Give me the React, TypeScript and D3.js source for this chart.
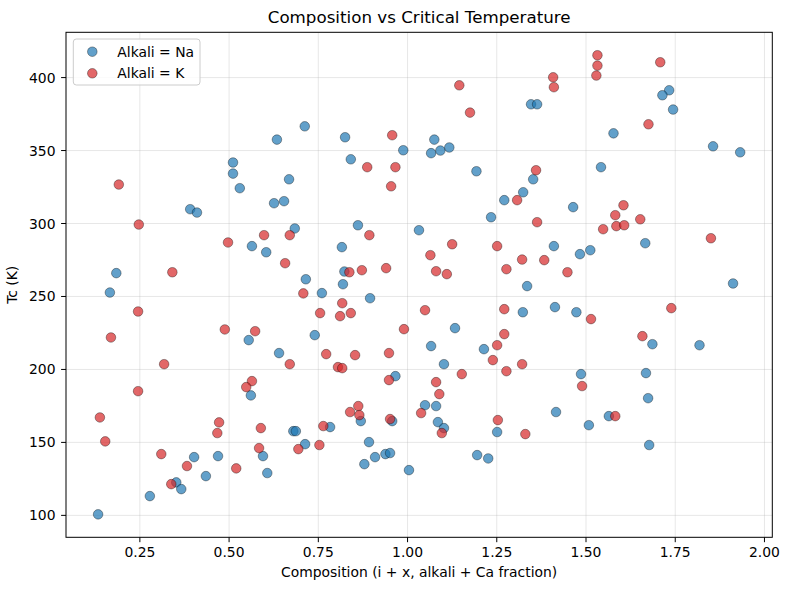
import React from "react";
import * as d3 from "d3";

// Alkali = Na
const naX = [0.712,0.634,0.511,0.511,0.668,0.530,0.391,0.410,0.626,0.654,0.684,0.564,0.604,0.184,0.715,
  0.166,0.555,0.640,0.561,0.680,0.687,0.713,0.595,0.402,0.469,0.607,0.435,0.352,0.366,0.278,0.133,
  1.346,1.363,0.825,1.075,0.988,1.066,1.092,1.117,0.841,1.193,1.352,1.324,1.271,1.234,0.861,1.032,0.816,0.823,0.819,1.335,
  0.760,0.895,1.323,1.133,0.740,1.066,1.214,1.102,0.966,1.049,1.080,0.869,0.957,1.085,1.102,1.251,0.783,0.892,0.879,0.909,0.938,0.951,1.004,1.195,1.226,
  1.733,1.714,1.744,1.577,1.856,1.932,1.542,1.464,1.410,1.666,1.512,1.483,1.912,
  1.413,1.473,1.686,1.818,1.486,1.668,1.674,1.416,1.564,1.508,1.677];
const naY = [366.6,357.5,341.8,334.2,330.3,324.2,309.8,307.5,313.9,315.3,296.6,284.5,280.3,266.0,261.8,
  252.7,220.1,211.2,182.2,157.7,157.7,148.8,140.6,139.9,140.6,129.0,126.9,122.6,118.0,113.2,100.7,
  381.7,381.7,359.1,357.5,350.2,348.2,350.0,352.1,344.0,335.8,330.3,321.4,316.0,304.3,298.8,295.4,283.8,267.1,258.4,257.1,
  252.3,248.8,239.2,228.3,223.5,216.0,213.9,203.6,195.4,175.5,174.9,164.6,164.6,163.9,159.8,157.1,160.5,150.2,135.1,139.9,142.0,142.7,131.0,141.3,139.0,
  391.3,387.9,378.1,361.8,352.9,348.8,338.6,311.2,284.5,286.5,281.7,279.0,258.9,
  242.7,239.2,217.3,216.6,196.8,197.5,180.3,170.8,168.0,161.8,148.2];

// Alkali = K
const kX = [0.191,0.247,0.598,0.670,0.497,0.657,0.341,
  0.708,0.245,0.169,0.488,0.573,0.670,0.318,0.564,0.548,0.245,0.138,0.472,0.467,0.589,0.153,0.694,0.584,0.310,0.382,0.520,0.338,
  1.145,1.175,0.957,0.887,0.966,1.360,0.954,1.307,1.363,0.893,1.125,1.251,1.064,1.321,1.383,0.837,0.872,0.940,1.080,1.110,1.277,
  0.817,0.755,0.811,0.841,1.049,1.271,0.990,1.271,1.251,0.772,0.853,0.948,1.239,1.321,0.805,0.817,1.277,1.152,0.948,1.080,1.089,0.862,0.839,0.865,1.038,0.951,1.096,1.253,1.330,0.764,0.753,
  1.532,1.532,1.529,1.708,1.408,1.410,1.675,1.605,1.582,1.652,1.548,1.585,1.607,1.850,1.448,
  1.514,1.739,1.658,1.489,1.582];
const kY = [326.7,299.3,292.0,292.0,287.0,272.8,266.6,
  252.1,239.7,221.9,227.4,226.2,203.6,203.6,192.0,187.9,185.1,167.1,163.7,156.4,159.8,150.7,145.4,146.1,142.0,133.8,132.2,121.4,
  394.7,376.0,360.5,338.6,338.6,336.5,325.5,316.0,300.9,292.0,285.8,284.5,278.3,275.3,274.9,266.6,268.0,269.4,267.3,265.3,268.7,
  245.4,238.6,236.5,238.6,240.6,241.3,227.6,224.2,216.6,210.5,209.8,211.2,206.4,203.6,201.6,200.9,198.8,196.8,192.7,191.3,183.1,174.9,170.8,168.7,170.1,166.0,156.4,165.3,155.7,161.2,148.2,
  415.3,408.2,401.4,410.5,400.2,393.4,368.0,312.5,305.7,302.9,296.1,298.2,298.8,289.9,266.6,
  234.5,242.0,222.8,188.6,168.0];

const xTicks = [0.25, 0.5, 0.75, 1.0, 1.25, 1.5, 1.75, 2.0];
const yTicks = [100, 150, 200, 250, 300, 350, 400];
const seriesNames = ["Alkali = Na", "Alkali = K"];
const seriesColors = ["#1f77b4", "#d62728"];

const W = 788, H = 590;
const L = 66, R = 772.3, T = 32.3, B = 537.3;
const FONT = "DejaVu Sans, sans-serif";
const FS = 13.9;

function padded(vals: number[]): [number, number] {
  const [mn, mx] = d3.extent(vals) as [number, number];
  const p = (mx - mn) * 0.05;
  return [mn - p, mx + p];
}

export default function App() {
  const allX = naX.concat(kX);
  const allY = naY.concat(kY);
  const x = d3.scaleLinear().domain(padded(allX)).range([L, R]);
  const y = d3.scaleLinear().domain(padded(allY)).range([B, T]);
  const series = [
    { xs: naX, ys: naY, color: seriesColors[0], name: seriesNames[0] },
    { xs: kX, ys: kY, color: seriesColors[1], name: seriesNames[1] },
  ];
  return (
    <div style={{ position: "absolute", left: 0, top: 0 }}>
      <svg width={W} height={H} style={{ display: "block", background: "#fff" }} fontFamily={FONT}>
        <rect x={0} y={0} width={W} height={H} fill="#fff" />
        {/* grid */}
        {xTicks.map((t) => (
          <line key={"gx" + t} x1={x(t)} x2={x(t)} y1={T} y2={B} stroke="#b0b0b0" strokeOpacity={0.3} strokeWidth={1} />
        ))}
        {yTicks.map((t) => (
          <line key={"gy" + t} x1={L} x2={R} y1={y(t)} y2={y(t)} stroke="#b0b0b0" strokeOpacity={0.3} strokeWidth={1} />
        ))}
        {/* points */}
        {series.map((s, si) => (
          <g key={si}>
            {s.xs.map((v, i) => (
              <circle key={i} cx={x(v)} cy={y(s.ys[i])} r={4.8} fill={s.color} fillOpacity={0.7}
                stroke="#000" strokeOpacity={0.7} strokeWidth={0.5} />
            ))}
          </g>
        ))}
        {/* spines */}
        <rect x={L} y={T} width={R - L} height={B - T} fill="none" stroke="#000" strokeWidth={1} />
        {/* x ticks */}
        {xTicks.map((t) => (
          <g key={"xt" + t}>
            <line x1={x(t)} x2={x(t)} y1={B} y2={B + 4.9} stroke="#000" strokeWidth={1} />
            <text x={x(t)} y={B + 20} fontSize={FS} textAnchor="middle" fill="#000">{t.toFixed(2)}</text>
          </g>
        ))}
        {/* y ticks */}
        {yTicks.map((t) => (
          <g key={"yt" + t}>
            <line x1={L - 4.9} x2={L} y1={y(t)} y2={y(t)} stroke="#000" strokeWidth={1} />
            <text x={L - 10.5} y={y(t)} dy="0.36em" fontSize={FS} textAnchor="end" fill="#000">{t}</text>
          </g>
        ))}
        {/* labels */}
        <text x={(L + R) / 2} y={576.8} fontSize={FS} textAnchor="middle" fill="#000">
          Composition (i + x, alkali + Ca fraction)
        </text>
        <text transform={`translate(17.3, ${(T + B) / 2}) rotate(-90)`} fontSize={FS} textAnchor="middle" fill="#000">
          Tc (K)
        </text>
        <text x={(L + R) / 2} y={22.9} fontSize={16.7} textAnchor="middle" fill="#000">
          Composition vs Critical Temperature
        </text>
        {/* legend */}
        <rect x={73.3} y={39} width={126.7} height={46} rx={3} fill="#fff" fillOpacity={0.8} stroke="#cccccc" strokeWidth={1} />
        {series.map((s, si) => (
          <g key={"lg" + si}>
            <circle cx={92.3} cy={51.7 + si * 21.6} r={4.8} fill={s.color} fillOpacity={0.7} stroke="#000" strokeOpacity={0.7} strokeWidth={0.5} />
            <text x={117.3} y={51.7 + si * 21.6} dy="0.36em" fontSize={FS} fill="#000">{s.name}</text>
          </g>
        ))}
      </svg>
    </div>
  );
}
